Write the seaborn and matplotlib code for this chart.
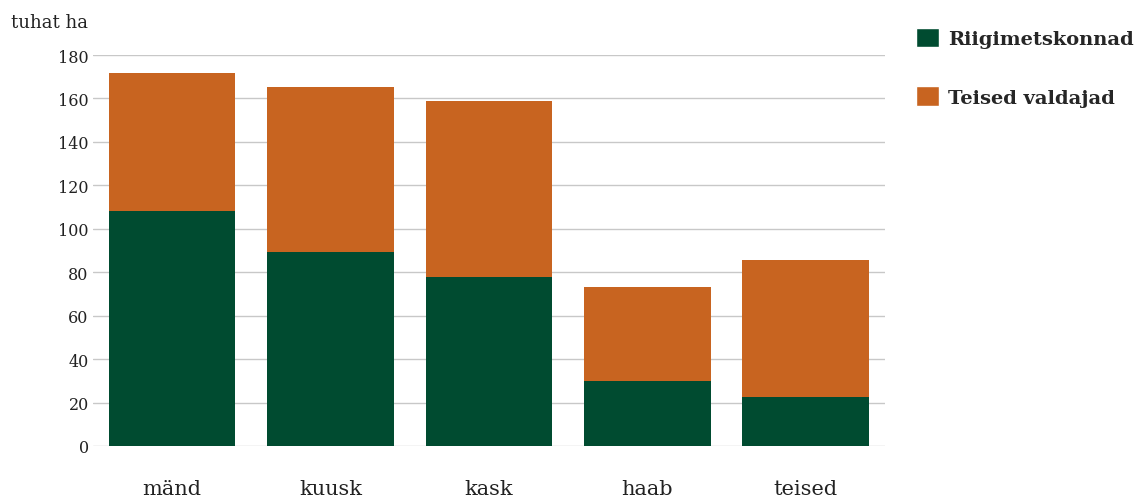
import pandas as pd
import seaborn as sns
import matplotlib.pyplot as plt
from matplotlib.patches import Patch

species = ['mänd', 'kuusk', 'kask', 'haab', 'teised']
riigimets = [108, 89.3, 77.9, 30, 22.6]
teised_valdajad = [63.9, 76.0, 81.1, 43.3, 63.1]

green = '#004B30'
orange = '#C86420'

df = pd.DataFrame({'liik': species, 'riik': riigimets, 'teised': teised_valdajad})
df['kokku'] = df['riik'] + df['teised']

sns.set_style('white')
plt.rcParams['font.family'] = ['DejaVu Serif']

fig = plt.figure(figsize=(11.47, 5.02), dpi=100)
ax = fig.add_axes([0.081, 0.1096, 0.6905, 0.7788])

sns.barplot(data=df, x='liik', y='kokku', color=orange, width=0.8, saturation=1,
            linewidth=0, ax=ax, zorder=2)
sns.barplot(data=df, x='liik', y='riik', color=green, width=0.8, saturation=1,
            linewidth=0, ax=ax, zorder=3)

ax.set_xlim(-0.5, 4.5)
ax.set_ylim(0, 180)
ax.set_yticks(range(0, 181, 20))
ax.yaxis.grid(True, color='#c8c8c8', linewidth=1, zorder=0)
ax.set_axisbelow(True)
for s in ax.spines.values():
    s.set_visible(False)
ax.tick_params(axis='y', length=0, pad=3, labelsize=11.5, labelcolor='#222222')
ax.tick_params(axis='x', length=0, pad=24, labelsize=15, labelcolor='#222222')
ax.set_xlabel('')
ax.set_ylabel('')

fig.text(0.010, 0.955, 'tuhat ha', fontsize=13, color='#222222', va='center', ha='left')

handles = [Patch(facecolor=green, label='Riigimetskonnad'),
           Patch(facecolor=orange, label='Teised valdajad')]
fig.legend(handles=handles, loc='upper left', bbox_to_anchor=(0.783, 0.978),
           frameon=False, handlelength=1.2, handleheight=1.2, handletextpad=0.45,
           labelspacing=1.95, prop={'weight': 'bold', 'size': 14})

plt.savefig('out.png', dpi=100)
